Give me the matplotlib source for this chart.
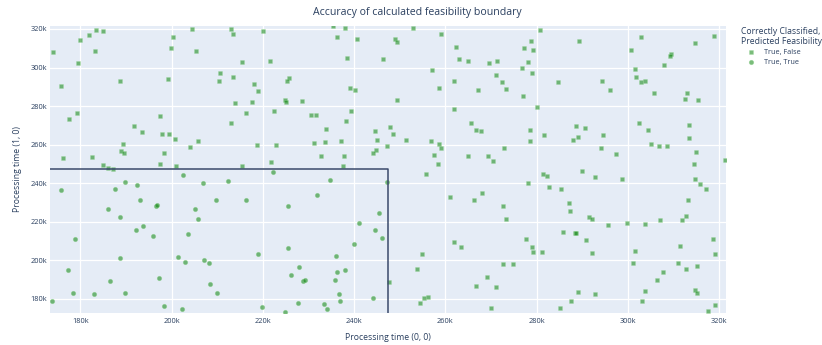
import matplotlib
matplotlib.use("Agg")
import matplotlib.pyplot as plt
from matplotlib.ticker import FuncFormatter

plt.rcParams['font.family'] = ['Open Sans', 'DejaVu Sans']

# Points outside the feasibility boundary: correctly classified, predicted infeasible
false_x = [174100, 179900, 181900, 183400, 184900, 183200, 179500, 175800, 188600, 179300,
           177600, 191700, 193500, 197500, 197800, 199400, 200800, 189400, 188900, 189500,
           198400, 197500, 201000, 176100, 182500, 185000, 186000, 187100, 199200, 199900,
           200200, 204400, 205300, 204100, 205700, 210300, 210600,
           213000, 213500, 220000, 235400, 238000, 236300, 240600, 215400, 221500, 238400,
           246400, 213500, 218000, 218900, 225800, 225300, 239100, 240100, 224900, 225000,
           228600, 213800, 217600, 216400, 222500, 230600, 231700, 239400, 238200, 213000,
           233900, 244500, 245100, 218800, 222900, 231200, 233700, 237100, 247300, 244800,
           244200, 232800, 237700, 221700, 215400, 237600,
           252800, 259000, 280800, 248900, 249500, 278800, 262400, 277300, 279300, 262900,
           265000, 269600, 271400, 278200, 257000, 276800, 278900, 271200, 261800, 272300,
           258600, 267200, 273200, 277000, 249300, 280100, 261900, 265600, 266800, 267800,
           278600, 281600, 278600, 247900, 248600, 251400, 256800, 258600, 259100, 272900,
           257500, 265000, 269300, 270500, 258400,
           289200, 302800, 314700, 318800, 300600, 309400, 309200, 308000, 301500, 284700,
           294400, 301700, 302800, 303800, 296000, 305800, 312900, 312600, 315300, 302400,
           304400, 313400, 288700, 290500, 294600, 288000, 289100, 313400, 294200, 305000,
           306900, 308600, 297400, 315000, 314400, 321200,
           255800, 281500, 282300, 278200, 282700, 261000, 266200, 268100, 272700, 273300,
           261900, 263500, 277700, 278900, 279300, 281100, 254800, 272700, 274800, 253700,
           269100, 247700, 266800, 271000, 255300, 256300, 254500, 269900,
           289900, 292800, 298700, 314800, 315800, 317100, 285400, 313200, 287100, 287300,
           291400, 292100, 312800, 311800, 307100, 303800, 299800, 295700, 285800, 288400,
           288600, 290900, 318700, 311500, 292200, 301500, 319000, 301200, 311000, 312700,
           315100, 307700, 306300, 314700, 315200, 303700, 289000, 292800, 303100, 287500,
           285100, 319100, 317600]
false_y = [308100, 314100, 316700, 319600, 318800, 308400, 302400, 290300, 293000, 276300,
           273200, 269900, 266600, 274700, 265600, 265700, 262800, 260500, 256600, 255500,
           255900, 249800, 249000, 253300, 253600, 249500, 247900, 247600, 293900, 310200,
           315900, 320200, 308600, 259000, 261900, 293200, 297000,
           320000, 317200, 319100, 321300, 320700, 315900, 315000, 303100, 303200, 305100,
           304600, 295100, 291300, 287900, 294400, 293000, 289400, 288500, 283400, 282200,
           282700, 281600, 282200, 276300, 277700, 275200, 275400, 277700, 272300, 271400,
           268000, 267100, 262600, 260000, 260000, 260900, 261400, 261900, 259300, 257400,
           255900, 254000, 254000, 251000, 249000, 249000,
           320300, 317400, 319700, 314600, 313100, 313600, 310700, 310200, 309300, 304600,
           303200, 302400, 303600, 302900, 298900, 299800, 297000, 296000, 293000, 292400,
           289600, 288500, 288900, 285400, 283400, 279600, 278300, 271400, 267800, 266900,
           267500, 264900, 262100, 269200, 265700, 262500, 261900, 260500, 258300, 258500,
           254700, 254300, 254200, 251700, 250000,
           313800, 315900, 312700, 316400, 309300, 307200, 305800, 301200, 299400, 292400,
           293200, 295100, 292700, 293000, 288200, 286800, 287000, 283900, 283200, 271300,
           267500, 270200, 269700, 268800, 265200, 262600, 264000, 263300, 258300, 260200,
           259200, 259300, 255200, 256000, 250200, 252300,
           244600, 244600, 243800, 240300, 238100, 233100, 231500, 234800, 228200, 221300,
           209700, 207100, 211100, 207000, 204200, 204200, 203300, 198100, 198000, 195400,
           191600, 188800, 186700, 186200, 180500, 181000, 177800, 175500,
           246400, 243400, 242400, 242400, 239600, 236900, 237000, 231500, 229800, 225800,
           222700, 221300, 222900, 221000, 221000, 218700, 219200, 218400, 214900, 214000,
           214000, 210800, 211100, 207500, 203700, 204900, 203300, 198700, 198500, 195500,
           197100, 194200, 189800, 184800, 182900, 184100, 183400, 182800, 178800, 178800,
           175300, 176900, 173600]

# Points inside the feasibility boundary: correctly classified, predicted feasible
true_x = [202400, 189800, 192400, 206900, 175800, 187500, 193100, 209800, 196500, 196700,
          186100, 205200, 188800, 205700, 192100, 193700, 196000, 203500, 178800, 188700,
          201500, 202900, 207200, 208200, 177200, 197300, 186400, 208400, 178500, 182900,
          189700, 210000, 173800, 198300, 202200,
          222200, 212400, 234700, 247200, 216250, 231800, 225600, 245500, 241000, 244500,
          246200, 225500, 240000, 219000, 236100, 228000, 226100, 228800, 229300, 235800,
          236300, 238000, 236600, 236800, 244200, 219900, 227800, 233400, 234100, 224900]
true_y = [244300, 240700, 239300, 240300, 236500, 236900, 231200, 231300, 228200, 228600,
          226500, 226700, 222300, 221700, 215600, 217800, 212800, 213900, 211300, 201100,
          201900, 199400, 200200, 198800, 195200, 190700, 189300, 187800, 183100, 182800,
          182900, 183100, 179100, 176500, 175000,
          246000, 241200, 241500, 240500, 231300, 234100, 228200, 224400, 219400, 215800,
          211600, 206600, 208700, 203200, 202100, 196600, 192600, 189300, 190000, 189800,
          193800, 194900, 182400, 179100, 180700, 175900, 177700, 177200, 175000, 173400]

# Calculated feasibility boundary (same limit on both processing times)
boundary = 247500

x_ticks = [180000, 200000, 220000, 240000, 260000, 280000, 300000, 320000]
y_ticks = [180000, 200000, 220000, 240000, 260000, 280000, 300000, 320000]

series_labels = ["True, False", "True, True"]
legend_title = "Correctly Classified,\nPredicted Feasibility"

text_color = "#2a3f5f"
bg_color = "#e5ecf6"
point_color = (0.05, 0.52, 0.05, 0.55)
edge_color = (0.6, 0.85, 0.6, 0.5)

fig = plt.figure(figsize=(8.22, 3.45), dpi=100)
ax = fig.add_axes([50 / 822, 1 - 312.5 / 345, 676 / 822, 286.5 / 345])
ax.set_facecolor(bg_color)

x_lo, x_hi = 173350, 321500
y_lo, y_hi = 173000, 321550
ax.set_xlim(x_lo, x_hi)
ax.set_ylim(y_lo, y_hi)

ax.set_xticks(x_ticks)
ax.set_yticks(y_ticks)
kfmt = FuncFormatter(lambda v, _: f"{v / 1000:.0f}k")
ax.xaxis.set_major_formatter(kfmt)
ax.yaxis.set_major_formatter(kfmt)
ax.tick_params(length=0, labelsize=5.3, colors=text_color)
ax.tick_params(axis='x', pad=4)
ax.tick_params(axis='y', pad=2)
ax.grid(True, color="white", linewidth=0.9)
ax.set_axisbelow(True)
for s in ax.spines.values():
    s.set_visible(False)

sq = ax.scatter(false_x, false_y, marker="s", s=10, color=point_color,
                edgecolors=[edge_color], linewidths=0.4, zorder=3,
                label=series_labels[0])
ci = ax.scatter(true_x, true_y, marker="o", s=11, color=point_color,
                edgecolors=[edge_color], linewidths=0.4, zorder=3,
                label=series_labels[1])

# Boundary rectangle from the lower-left corner up to the limit
ax.plot([x_lo - 10000, boundary, boundary], [boundary, boundary, y_lo - 10000],
        color="#3b4a6b", linewidth=1.1, zorder=4, clip_on=True)

ax.set_xlabel("Processing time (0, 0)", fontsize=6.2, color=text_color, labelpad=6)
ax.set_ylabel("Processing time (1, 0)", fontsize=6.2, color=text_color, labelpad=6)
fig.text(417 / 822, 1 - 12 / 345, "Accuracy of calculated feasibility boundary",
         ha="center", va="center", fontsize=7.6, color=text_color)

leg = ax.legend(handles=[sq, ci], labels=series_labels, title=legend_title,
                loc="upper left", bbox_to_anchor=(741 / 822, 1 - 27 / 345),
                bbox_transform=fig.transFigure, frameon=False,
                fontsize=5.2, title_fontsize=6.2, alignment="left",
                handlelength=2.9, handletextpad=0.25, labelspacing=0.35,
                borderpad=0, borderaxespad=0, markerscale=1.0)
for t in leg.get_texts():
    t.set_color(text_color)
leg.get_title().set_color(text_color)

fig.savefig("out.png", dpi=100)
